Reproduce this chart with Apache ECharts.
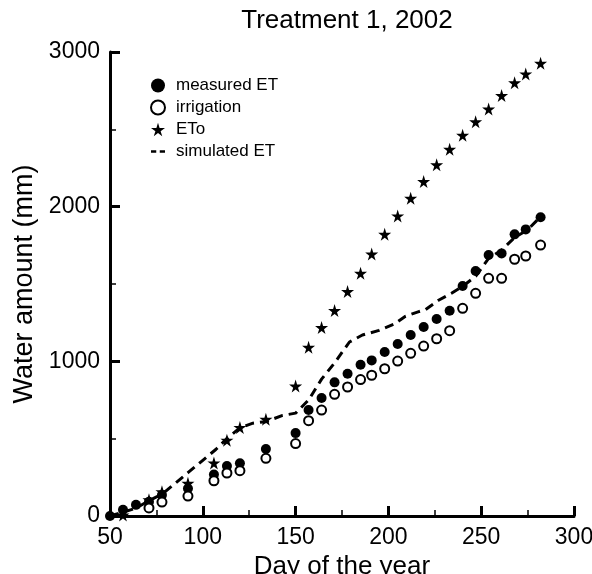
<!DOCTYPE html>
<html>
<head>
<meta charset="utf-8">
<script src="https://cdn.jsdelivr.net/npm/echarts@6/dist/echarts.min.js"></script>
<style>
  html, body { margin: 0; padding: 0; background: #fff; }
  #chart { width: 592px; height: 574px; }
</style>
</head>
<body>
<div id="chart"></div>
<script>
'use strict';

// values (day of year, mm)
var measuredDays = [50, 57, 64, 71, 78, 92, 106, 113, 120, 134, 150, 157, 164, 171, 178, 185, 191, 198, 205, 212, 219, 226, 233, 240, 247, 254, 261, 268, 274, 282];
var measuredET = [0, 40, 72, 92, 136, 178, 268, 323, 341, 433, 536, 685, 763, 864, 920, 978, 1006, 1060, 1112, 1170, 1222, 1274, 1327, 1487, 1584, 1687, 1698, 1821, 1853, 1931];

var irrigationDays = [71, 78, 92, 106, 113, 120, 134, 150, 157, 164, 171, 178, 185, 191, 198, 205, 212, 219, 226, 233, 240, 247, 254, 261, 268, 274, 282];
var irrigation = [52, 90, 129, 228, 278, 293, 373, 468, 616, 685, 787, 834, 882, 910, 952, 1002, 1052, 1099, 1146, 1198, 1343, 1440, 1537, 1537, 1660, 1681, 1752];

var etoDays = [57, 71, 78, 92, 106, 113, 120, 134, 150, 157, 164, 171, 178, 185, 191, 198, 205, 212, 219, 226, 233, 240, 247, 254, 261, 268, 274, 282];
var eto = [6, 105, 157, 211, 343, 490, 573, 625, 840, 1091, 1218, 1328, 1451, 1569, 1694, 1821, 1940, 2054, 2162, 2271, 2371, 2461, 2549, 2631, 2718, 2801, 2858, 2927];

var simDays = [50, 64, 71, 78, 85, 92, 100, 107, 113, 120, 127, 134, 143, 150, 157, 164, 171, 179, 186, 195, 203, 209, 216, 220, 227, 234, 240, 247, 254, 261, 268, 275, 282];
var simET = [0, 50, 100, 140, 210, 280, 360, 430, 500, 570, 600, 610, 650, 665, 750, 885, 990, 1125, 1170, 1200, 1240, 1290, 1320, 1335, 1395, 1440, 1485, 1550, 1665, 1720, 1800, 1850, 1935];

var xTicks = [50, 100, 150, 200, 250, 300];
var yTicks = [0, 1000, 2000, 3000];

var font = 'Liberation Sans, Arial, Helvetica, sans-serif';
var starPath = 'path://M50,0 L61,35 L98,35 L68,57 L79,91 L50,70 L21,91 L32,57 L2,35 L39,35 Z';
var dashIcon = 'path://M0,0 M0,6.5h6v3h-6z M10,6.5h6v3h-6z M16,16';

function pairs(xs, ys) {
	var out = [];
	for (var i = 0; i < xs.length; i++) { out.push([xs[i], ys[i]]); }
	return out;
}

var chart = echarts.init(document.getElementById('chart'));

var options = {
	animation: false,
	backgroundColor: '#fff',
	title: {
		text: 'Treatment 1, 2002',
		left: 342,
		textAlign: 'center',
		top: 3,
		textStyle: { fontFamily: font, fontSize: 26, fontWeight: 'normal', color: '#000' }
	},
	legend: {
		orient: 'vertical',
		left: 145,
		top: 72,
		itemWidth: 14,
		itemHeight: 14,
		itemGap: 5,
		textStyle: { fontFamily: font, fontSize: 17, color: '#000', padding: [0, 0, 0, 6] },
		data: [
			{ name: 'measured ET', icon: 'circle' },
			{ name: 'irrigation', icon: 'circle' },
			{ name: 'ETo', icon: starPath },
			{ name: 'simulated ET', icon: dashIcon, itemStyle: { color: '#000' } }
		]
	},
	grid: { left: 110, right: 18, top: 52, bottom: 58, containLabel: false, outerBoundsMode: 'none' },
	xAxis: {
		type: 'value',
		min: xTicks[0],
		max: xTicks[xTicks.length - 1],
		interval: 50,
		name: 'Day of the year',
		nameLocation: 'middle',
		nameGap: 37,
		nameTextStyle: { fontFamily: font, fontSize: 26, color: '#000' },
		axisLine: { lineStyle: { color: '#000', width: 3 } },
		axisTick: { inside: true, length: 10, lineStyle: { color: '#000', width: 3 } },
		minorTick: { show: true, splitNumber: 2, length: 6, lineStyle: { color: '#000', width: 1.5 } },
		axisLabel: { fontFamily: font, fontSize: 23, color: '#000', margin: 10 },
		splitLine: { show: false }
	},
	yAxis: {
		type: 'value',
		min: yTicks[0],
		max: yTicks[yTicks.length - 1],
		interval: 1000,
		name: 'Water amount (mm)',
		nameLocation: 'middle',
		nameRotate: 90,
		nameGap: 56,
		nameTextStyle: { fontFamily: font, fontSize: 27, color: '#000' },
		axisLine: { show: true, lineStyle: { color: '#000', width: 3 } },
		axisTick: { show: true, inside: true, length: 10, lineStyle: { color: '#000', width: 3 } },
		minorTick: { show: true, splitNumber: 2, length: 6, lineStyle: { color: '#000', width: 1.5 } },
		axisLabel: {
			fontFamily: font, fontSize: 23, color: '#000', margin: 10,
			formatter: function (v) { return String(v); }
		},
		splitLine: { show: false }
	},
	series: [
		{
			name: 'measured ET',
			type: 'scatter',
			symbol: 'circle',
			symbolSize: 10,
			itemStyle: { color: '#000', opacity: 1 },
			data: pairs(measuredDays, measuredET),
			z: 3
		},
		{
			name: 'irrigation',
			type: 'scatter',
			symbol: 'circle',
			symbolSize: 9,
			itemStyle: { color: '#fff', borderColor: '#000', borderWidth: 2, opacity: 1 },
			data: pairs(irrigationDays, irrigation),
			z: 3
		},
		{
			name: 'ETo',
			type: 'scatter',
			symbol: starPath,
			symbolSize: 13,
			itemStyle: { color: '#000', opacity: 1 },
			data: pairs(etoDays, eto),
			z: 3
		},
		{
			name: 'simulated ET',
			type: 'line',
			symbol: 'none',
			lineStyle: { color: '#000', width: 3, type: [9, 6] },
			itemStyle: { color: '#000' },
			data: pairs(simDays, simET),
			z: 4
		}
	]
};

chart.setOption(options);
</script>
</body>
</html>
